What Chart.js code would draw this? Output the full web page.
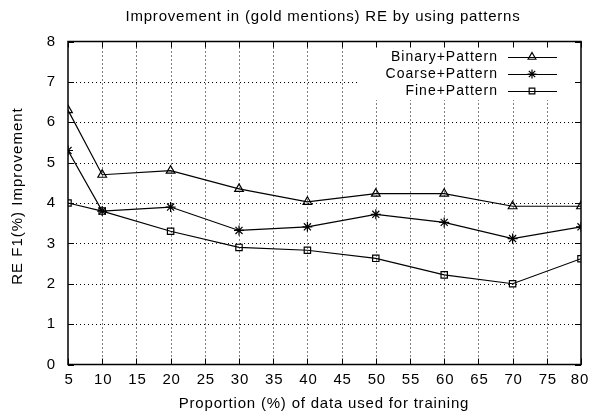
<!DOCTYPE html>
<html>
<head>
<meta charset="utf-8">
<script src="https://cdn.jsdelivr.net/npm/chart.js@4/dist/chart.umd.min.js"></script>
<style>
  html, body { margin: 0; padding: 0; background: #fff; }
  #wrap { width: 590px; height: 413px; position: relative; }
</style>
</head>
<body>
<div id="wrap"><canvas id="c" width="590" height="413"></canvas></div>
<script>
// ============ DATA ============
const proporciones = [5, 10, 20, 30, 40, 50, 60, 70, 80];
const binaryPattern = [6.3, 4.7, 4.8, 4.35, 4.03, 4.23, 4.23, 3.92, 3.92];
const coarsePattern = [5.3, 3.8, 3.9, 3.32, 3.41, 3.72, 3.52, 3.12, 3.41];
const finePattern = [4.0, 3.8, 3.3, 2.9, 2.83, 2.63, 2.22, 2.0, 2.62];
const nombresSeries = ['Binary+Pattern', 'Coarse+Pattern', 'Fine+Pattern'];
const xTicks = [5, 10, 15, 20, 25, 30, 35, 40, 45, 50, 55, 60, 65, 70, 75, 80];
const yTicks = [0, 1, 2, 3, 4, 5, 6, 7, 8];

const FONT = 'Liberation Sans, Arial, Helvetica, sans-serif';
const puntos = (ys) => proporciones.map((x, i) => ({ x, y: ys[i] }));

const estilos = ['triangle', 'star', 'rect'];
const serie = (label, data, estilo) => ({
  label, data: puntos(data),
  borderColor: '#000', borderWidth: 1.2,
  pointStyle: estilo, pointRadius: estilo === 'rect' ? 4.5 : 5,
  pointBorderColor: '#000', pointBackgroundColor: 'rgba(0,0,0,0)', pointBorderWidth: 1.2,
  tension: 0, fill: false,
});

// ============ GNUPLOT LOOK ============
const LEGEND_BOX = { x0: 357, y0: 42, y1: 100 };

function texto(ctx, s, x, y, size, sp = '0.8px') {
  ctx.font = size + 'px ' + FONT;
  if ('letterSpacing' in ctx) ctx.letterSpacing = sp;
  ctx.fillText(s, x, y);
  if ('letterSpacing' in ctx) ctx.letterSpacing = '0px';
}

const gnuplotPlugin = {
  id: 'gnuplot',
  beforeDatasetsDraw(chart) {
    const { ctx, chartArea: a, scales: { x, y } } = chart;
    ctx.save();
    // grid punteada
    ctx.strokeStyle = '#000'; ctx.lineWidth = 1; ctx.setLineDash([1, 3]);
    xTicks.forEach(v => {
      const px = Math.round(x.getPixelForValue(v)) + 0.5;
      if (v === 5 || v === 80) return;
      ctx.beginPath(); ctx.moveTo(px, a.bottom); ctx.lineTo(px, a.top); ctx.stroke();
    });
    yTicks.forEach(v => {
      const py = Math.round(y.getPixelForValue(v)) + 0.5;
      if (v === 0 || v === 8) return;
      ctx.beginPath(); ctx.moveTo(a.left, py); ctx.lineTo(a.right, py); ctx.stroke();
    });
    ctx.setLineDash([]);
    // fondo de la leyenda tapa la grilla
    ctx.fillStyle = '#fff';
    ctx.fillRect(LEGEND_BOX.x0, LEGEND_BOX.y0, a.right - LEGEND_BOX.x0, LEGEND_BOX.y1 - LEGEND_BOX.y0);
    // ticks hacia adentro en los cuatro lados
    ctx.lineWidth = 1;
    const L = 6;
    xTicks.forEach(v => {
      const px = Math.round(x.getPixelForValue(v)) + 0.5;
      ctx.beginPath();
      ctx.moveTo(px, a.bottom); ctx.lineTo(px, a.bottom - L);
      ctx.moveTo(px, a.top); ctx.lineTo(px, a.top + L);
      ctx.stroke();
    });
    yTicks.forEach(v => {
      const py = Math.round(y.getPixelForValue(v)) + 0.5;
      ctx.beginPath();
      ctx.moveTo(a.left, py); ctx.lineTo(a.left + L, py);
      ctx.moveTo(a.right, py); ctx.lineTo(a.right - L, py);
      ctx.stroke();
    });
    // borde
    ctx.lineWidth = 1.5;
    ctx.strokeRect(a.left, a.top, a.right - a.left, a.bottom - a.top);
    // etiquetas de ticks
    ctx.fillStyle = '#000';
    ctx.textAlign = 'center'; ctx.textBaseline = 'middle';
    xTicks.forEach(v => texto(ctx, String(v), Math.min(x.getPixelForValue(v) + 1, 580), 380, 15));
    ctx.textAlign = 'right';
    yTicks.forEach(v => texto(ctx, String(v), 56, y.getPixelForValue(v), 15));
    // títulos
    ctx.textAlign = 'center';
    texto(ctx, 'Improvement in (gold mentions) RE by using patterns', 323, 17, 15);
    texto(ctx, 'Proportion (%) of data used for training', 324, 404, 15);
    ctx.save();
    ctx.translate(18, 196);
    ctx.rotate(-Math.PI / 2);
    texto(ctx, 'RE F1(%) Improvement', 0, 0, 15, '1px');
    ctx.restore();
    ctx.restore();
  },
  afterDatasetsDraw(chart) {
    const { ctx } = chart;
    ctx.save();
    ctx.textAlign = 'right'; ctx.textBaseline = 'middle';
    chart.data.datasets.forEach((ds, i) => {
      const yy = 57 + i * 17;
      ctx.fillStyle = '#000';
      texto(ctx, ds.label, 498, yy, 14, '1px');
      ctx.strokeStyle = '#000'; ctx.lineWidth = 1.2;
      ctx.beginPath(); ctx.moveTo(508, yy + 0.5); ctx.lineTo(557, yy + 0.5); ctx.stroke();
      ctx.fillStyle = 'rgba(0,0,0,0)';
      Chart.helpers.drawPoint(ctx, {
        pointStyle: ds.pointStyle, radius: ds.pointRadius - 0.5, rotation: 0, borderWidth: 1.2,
      }, 532, yy);
    });
    ctx.restore();
  },
};

new Chart(document.getElementById('c'), {
  type: 'line',
  data: {
    datasets: [
      serie(nombresSeries[0], binaryPattern, estilos[0]),
      serie(nombresSeries[1], coarsePattern, estilos[1]),
      serie(nombresSeries[2], finePattern, estilos[2]),
    ],
  },
  options: {
    responsive: false, animation: false,
    layout: { padding: { left: 68, right: 9, top: 41.5, bottom: 48.5 } },
    plugins: { legend: { display: false }, title: { display: false }, tooltip: { enabled: false } },
    scales: {
      x: { type: 'linear', min: 5, max: 80, display: false },
      y: { type: 'linear', min: 0, max: 8, display: false },
    },
  },
  plugins: [gnuplotPlugin],
});
</script>
</body>
</html>
